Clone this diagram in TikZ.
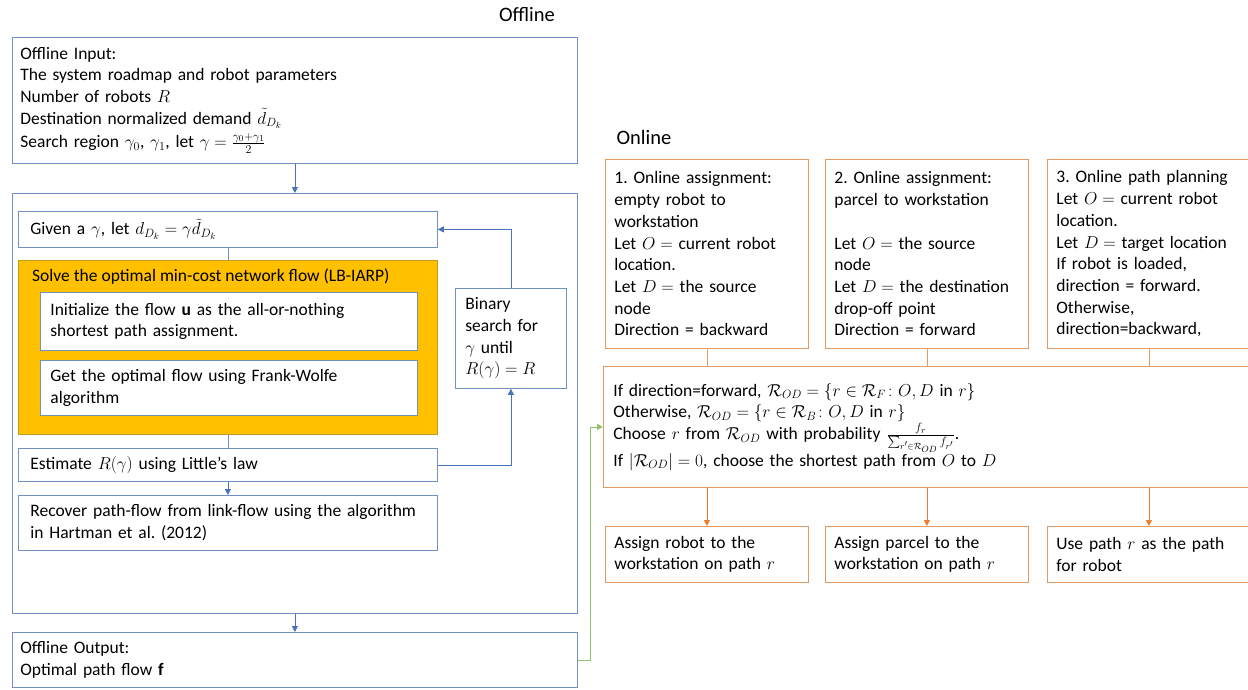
\documentclass[tikz,border=0pt]{standalone}
\usepackage{amsmath}
\usepackage{fontspec}
\setmainfont{Carlito}
\frenchspacing
\usetikzlibrary{arrows.meta}
\definecolor{offblue}{HTML}{7090C0}
\definecolor{arrblue}{HTML}{4A72B8}
\definecolor{onorange}{HTML}{E09A62}
\definecolor{arrorange}{HTML}{ED7D31}
\definecolor{solvefill}{HTML}{FFC000}
\definecolor{solvedraw}{HTML}{C49A1A}
\definecolor{linkgreen}{HTML}{8DC56C}
\begin{document}
\begin{tikzpicture}[x=1pt,y=-1pt,font=\fontsize{17.5}{21.7}\selectfont,
  >={Triangle[length=6pt,width=6pt]},
  offbox/.style={draw=offblue,line width=.8pt,anchor=north west,align=left,inner xsep=#1,inner ysep=0pt},
  offbox/.default=10pt,
  onbox/.style={draw=onorange,line width=.8pt,anchor=north west,align=left,inner xsep=9pt,inner ysep=0pt,text width=185pt},
  title/.style={font=\fontsize{20.5}{24}\selectfont}]
  \useasboundingbox (0,0) rectangle (1248,690);
  % offline part
  \node[title] (offttl) at (527,15) {Offline};
  \node[offbox=8pt,text width=549pt,minimum height=126pt] (inp) at (12,37) {Offline Input:\\
    The system roadmap and robot parameters\\
    Number of robots $R$\\
    Destination normalized demand $\tilde{d}_{D_k}$\\[2pt]
    Search region $\gamma_0$, $\gamma_1$, let $\gamma=\frac{\gamma_0+\gamma_1}{2}$};
  \node[offbox,minimum width=565pt,minimum height=420pt] (loop) at (12,193) {};
  \node[offbox=12pt,text width=395pt,minimum height=36pt] (given) at (18,211) {Given a $\gamma$, let $d_{D_k}=\gamma\tilde{d}_{D_k}$};
  \node[draw=solvedraw,fill=solvefill,line width=.8pt,anchor=north west,minimum width=419pt,minimum height=174pt] (solve) at (18,260) {};
  \node[anchor=west,inner sep=0pt] (solvettl) at (32,277) {Solve the optimal min-cost network flow (LB-IARP)};
  \node[offbox,fill=white,text width=357pt,minimum height=58pt] (init) at (40,292) {Initialize the flow $\mathbf{u}$ as the all-or-nothing\\ shortest path assignment.};
  \node[offbox,fill=white,text width=357pt,minimum height=55pt] (fw) at (40,360) {Get the optimal flow using Frank-Wolfe\\ algorithm};
  \node[offbox=12pt,text width=395pt,minimum height=33pt] (est) at (18,448) {Estimate $R(\gamma)$ using Little's law};
  \node[offbox=12pt,text width=395pt,minimum height=55pt] (recov) at (18,495) {Recover path-flow from link-flow using the algorithm\\ in Hartman et al. (2012)};
  \node[offbox,text width=91pt,minimum height=100pt] (binary) at (455,288) {Binary\\ search for\\ $\gamma$ until\\ $R(\gamma)=R$};
  \node[offbox=8pt,text width=549pt,minimum height=55pt] (out) at (12,632) {Offline Output:\\ Optimal path flow $\mathbf{f}$};
  \draw[arrblue,line width=.8pt,->] (inp.south) -- (loop.north);
  \draw[offblue,line width=.8pt] (given.south) -- (solve.north);
  \draw[offblue,line width=.8pt] (solve.south) -- (est.north);
  \draw[arrblue,line width=.8pt,->] (est.south) -- (recov.north);
  \draw[arrblue,line width=.8pt,->] (est.east) -| (binary.south);
  \draw[arrblue,line width=.8pt,->] (binary.north) |- (given.east);
  \draw[arrblue,line width=.8pt,->] (loop.south) -- (out.north);
  % online part
  \node[title] (onttl) at (644,137) {Online};
  \node[onbox,minimum height=189pt] (on1) at (605,159) {1. Online assignment:\\ empty robot to\\ workstation\\
    Let $O=$ current robot\\ location.\\ Let $D=$ the source\\ node\\ Direction = backward};
  \node[onbox,minimum height=189pt] (on2) at (825,159) {2. Online assignment:\\ parcel to workstation\\[21.7pt]
    Let $O=$ the source\\ node\\ Let $D=$ the destination\\ drop-off point\\ Direction = forward};
  \node[onbox,minimum height=189pt] (on3) at (1047,159) {3. Online path planning\\ Let $O=$ current robot\\ location.\\
    Let $D=$ target location\\ If robot is loaded,\\ direction = forward.\\ Otherwise,\\ direction=backward,};
  \node[onbox,inner xsep=10pt,text width=627pt,minimum height=121pt] (mid) at (603,366) {If direction=forward, $\mathcal{R}_{OD}=\{r\in\mathcal{R}_F\colon O,D\ \mathrm{in}\ r\}$\\
    Otherwise, $\mathcal{R}_{OD}=\{r\in\mathcal{R}_B\colon O,D\ \mathrm{in}\ r\}$\\
    Choose $r$ from $\mathcal{R}_{OD}$ with probability $\frac{f_r}{\sum_{r'\in\mathcal{R}_{OD}}f_{r'}}$.\\
    If $|\mathcal{R}_{OD}|=0$, choose the shortest path from $O$ to $D$};
  \node[onbox,minimum height=56pt] (as1) at (605,526) {Assign robot to the\\ workstation on path $r$};
  \node[onbox,minimum height=56pt] (as2) at (825,526) {Assign parcel to the\\ workstation on path $r$};
  \node[onbox,minimum height=56pt] (as3) at (1047,526) {Use path $r$ as the path\\ for robot};
  \foreach \n in {on1,on2,on3}
    \draw[onorange,line width=.8pt] (\n.south) -- (\n.south |- mid.north);
  \foreach \n in {as1,as2,as3}
    \draw[arrorange,line width=.8pt,->] (\n.north |- mid.south) -- (\n.north);
  \draw[linkgreen,line width=.8pt,->] (out.east) -- ++(13,0) |- (mid.west);
\end{tikzpicture}
\end{document}
